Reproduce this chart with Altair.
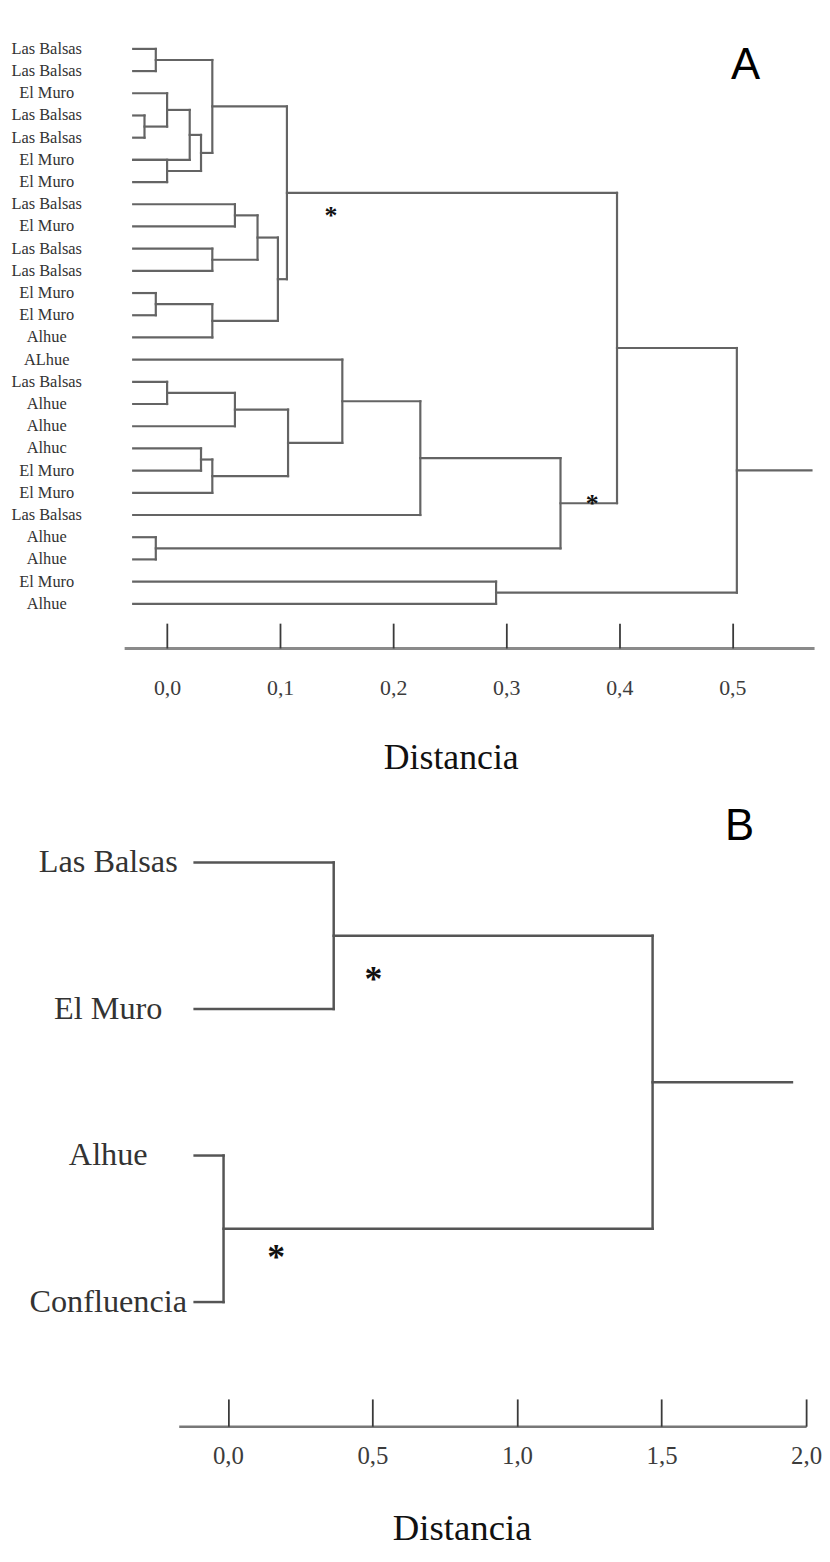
import altair as alt
import pandas as pd

SERIF = "Liberation Serif"
SANS = "Liberation Sans"

# ---------------- Panel A data ----------------
leaves_A = ["Las Balsas", "Las Balsas", "El Muro", "Las Balsas", "Las Balsas", "El Muro",
            "El Muro", "Las Balsas", "El Muro", "Las Balsas", "Las Balsas", "El Muro",
            "El Muro", "Alhue", "ALhue", "Las Balsas", "Alhue", "Alhue", "Alhuc",
            "El Muro", "El Muro", "Las Balsas", "Alhue", "Alhue", "El Muro", "Alhue"]
# merge k joins merge_a[k] and merge_b[k] at distance merge_dist[k]; result is node N(k+1)
merge_a_A = ["L1", "L4", "L3", "N3", "L6", "N4", "N1", "L8", "L10", "N8", "L12", "N11", "N10",
             "N7", "L16", "N15", "L19", "N17", "N16", "L15", "N20", "L23", "N21", "N14", "L25", "N24"]
merge_b_A = ["L2", "L5", "N2", "L6", "L7", "N5", "N6", "L9", "L11", "N9", "L13", "L14", "N12",
             "N13", "L17", "L18", "L20", "L21", "N18", "N19", "L22", "L24", "N22", "N23", "L26", "N25"]
merge_dist_A = [-0.01, -0.02, 0.0, 0.02, 0.0, 0.03, 0.04, 0.06, 0.04, 0.08, -0.01, 0.04, 0.098,
                0.106, 0.0, 0.06, 0.03, 0.04, 0.107, 0.155, 0.224, -0.01, 0.348, 0.398, 0.291, 0.504]
leaf_start_A = -0.03
root_end_A = 0.570
ticks_A = [0.0, 0.1, 0.2, 0.3, 0.4, 0.5]
star_dist_A = [0.145, 0.376]
star_pos_A = [7.54, 20.49]

# ---------------- Panel B data ----------------
leaves_B = ["Las Balsas", "El Muro", "Alhue", "Confluencia"]
merge_a_B = ["L1", "L3", "N1"]
merge_b_B = ["L2", "L4", "N2"]
merge_dist_B = [0.366, -0.015, 1.469]
leaf_start_B = -0.115
root_end_B = 1.951
ticks_B = [0.0, 0.5, 1.0, 1.5, 2.0]
star_dist_B = [0.503, 0.167]
star_pos_B = [0.80, 2.70]


def dendro_segments(n_leaves, ma, mb, md, leaf_start, root_end):
    pos, height = {}, {}
    for i in range(n_leaves):
        pos[f"L{i+1}"] = float(i)
        height[f"L{i+1}"] = leaf_start
    rows = []
    for k, (a, b, h) in enumerate(zip(ma, mb, md)):
        for c in (a, b):
            rows.append(dict(x=height[c], x2=h, y=pos[c], y2=pos[c]))
        rows.append(dict(x=h, x2=h, y=pos[a], y2=pos[b]))
        name = f"N{k+1}"
        pos[name] = (pos[a] + pos[b]) / 2.0
        height[name] = h
    root = f"N{len(ma)}"
    rows.append(dict(x=md[-1], x2=root_end, y=pos[root], y2=pos[root]))
    return pd.DataFrame(rows)


LABEL_X_EXPR = "replace(format(datum.value, '.1f'), '.', ',')"


def panel(seg, stars, leaves, ticks, xdom, xrng, ydom, yrng, W, H, letter, cfg):
    xscale = alt.Scale(domain=xdom, range=xrng, nice=False, zero=False)
    yscale = alt.Scale(domain=ydom, range=yrng, nice=False, zero=False)

    bottom_axis = alt.Axis(
        orient="bottom", values=ticks, labelExpr=LABEL_X_EXPR, ticks=False, tickSize=0,
        grid=False, domain=True, domainColor=cfg["domain_color"], domainWidth=cfg["domain_width"],
        labelFont=SERIF, labelFontSize=cfg["tick_font"], labelColor="#3c3c3c",
        labelPadding=cfg["label_pad"], labelBaseline="alphabetic", labelFlush=False,
        labelOverlap=False, title="Distancia", titleFont=SERIF, titleFontSize=cfg["title_font"],
        titleFontWeight="normal", titleColor="#111111", titleX=cfg["title_x"],
        titleY=cfg["title_y"], titleBaseline="alphabetic", titleAlign="center")
    tick_axis = alt.Axis(
        orient="top", offset=-H, values=ticks, ticks=True, tickSize=cfg["tick_len"],
        tickColor="#3a3a3a", tickWidth=1.8, labels=False, domain=False, grid=False, title=None)

    lines = alt.Chart(seg).mark_rule(
        color=cfg["line_color"], strokeWidth=cfg["line_width"], strokeCap="square"
    ).encode(
        x=alt.X("x:Q", scale=xscale, axis=bottom_axis),
        x2="x2:Q",
        y=alt.Y("y:Q", scale=yscale, axis=None),
        y2="y2:Q",
    )
    star_marks = alt.Chart(stars).mark_text(
        text="*", font=SERIF, fontSize=cfg["star_font"], fontWeight="bold",
        color="#111111", align="center", baseline="middle"
    ).encode(
        x=alt.X("d:Q", scale=xscale, axis=tick_axis),
        y=alt.Y("p:Q", scale=yscale, axis=None),
    )
    label_df = pd.DataFrame({"idx": list(range(len(leaves))), "name": leaves})
    leaf_labels = alt.Chart(label_df).mark_text(
        font=SERIF, fontSize=cfg["leaf_font"], color="#333333", align="center",
        baseline="middle"
    ).encode(
        x=alt.value(cfg["leaf_label_x"]),
        y=alt.Y("idx:Q", scale=yscale, axis=None),
        text="name:N",
    )
    panel_letter = alt.Chart(pd.DataFrame({"t": [letter]})).mark_text(
        font=SANS, fontSize=44, color="#000000", align="center", baseline="alphabetic"
    ).encode(
        x=alt.value(cfg["letter_x"]),
        y=alt.value(cfg["letter_y"]),
        text="t:N",
    )
    return alt.layer(lines, star_marks, leaf_labels, panel_letter).resolve_axis(
        x="independent").properties(width=W, height=H)


seg_A = dendro_segments(len(leaves_A), merge_a_A, merge_b_A, merge_dist_A, leaf_start_A, root_end_A)
seg_B = dendro_segments(len(leaves_B), merge_a_B, merge_b_B, merge_dist_B, leaf_start_B, root_end_B)
stars_A = pd.DataFrame({"d": star_dist_A, "p": star_pos_A})
stars_B = pd.DataFrame({"d": star_dist_B, "p": star_pos_B})

W = 814
HA = 639
HB = 636

chart_A = panel(
    seg_A, stars_A, leaves_A, ticks_A, [-0.038, 0.5723], [117, 812], [0, 25], [35.5, 594.5],
    W, HA, "A",
    dict(domain_color="#8a8a8a", domain_width=3, tick_font=22, label_pad=47, title_font=36,
         title_x=446, title_y=121, tick_len=25, leaf_label_x=39, leaf_font=16.5,
         line_color="#646464", line_width=2.2, star_font=26, letter_x=743, letter_y=66))

chart_B = panel(
    seg_B, stars_B, leaves_B, ticks_B, [-0.17, 2.0], [172, 804], [0, 3], [68.1, 510.9],
    W, HB, "B",
    dict(domain_color="#787878", domain_width=2.5, tick_font=25, label_pad=38, title_font=37,
         title_x=457, title_y=114, tick_len=27.5, leaf_label_x=101, leaf_font=32.5,
         line_color="#555555", line_width=2.5, star_font=36, letter_x=737, letter_y=45))

chart = alt.vconcat(
    chart_A, chart_B, spacing=148, bounds="flush", padding=0, background="white"
).configure_view(stroke=None)

chart.save("out.html", embed_options={"renderer": "svg", "actions": False})
